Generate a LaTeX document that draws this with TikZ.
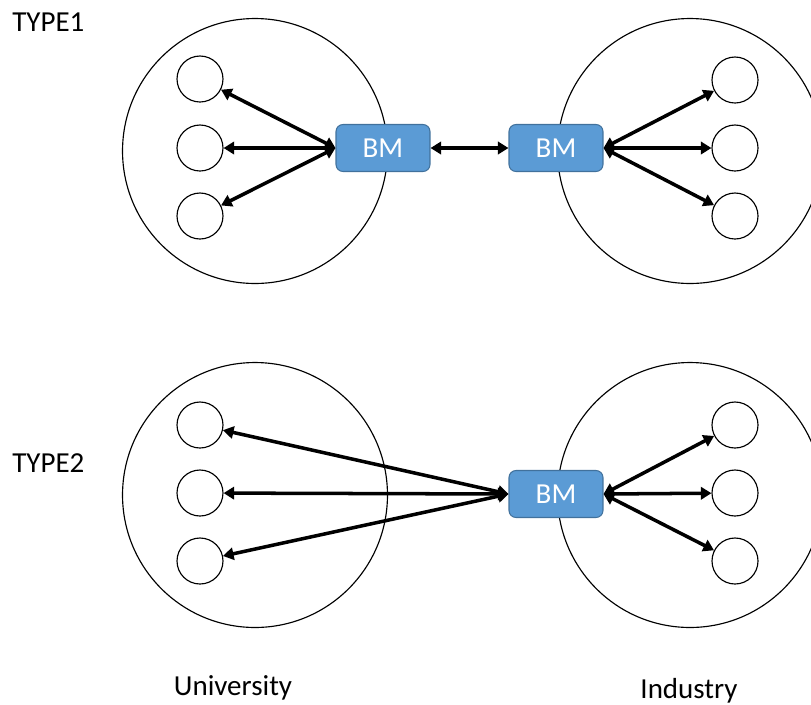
\documentclass[tikz,border=0pt]{standalone}
\usepackage{fontspec}
\setmainfont{Carlito}
\usepackage{tikz}
\usetikzlibrary{arrows.meta, positioning}
\definecolor{bmfill}{RGB}{91,155,213}
\definecolor{bmdraw}{RGB}{65,113,156}
\tikzset{
    party/.style={circle, draw=black, line width=.65pt, minimum size=5.3cm, inner sep=0pt},
    member/.style={circle, draw=black, line width=.65pt, minimum size=.92cm, inner sep=0pt},
    bm/.style={rectangle, rounded corners=4pt, draw=bmdraw, fill=bmfill, line width=.6pt, minimum width=1.88cm, minimum height=.94cm, text=white, font=\fontsize{16.5}{19}\selectfont},
    link/.style={{Triangle[length=6pt,width=7pt]}-{Triangle[length=6pt,width=7pt]}, line width=2pt},
    tag/.style={font=\fontsize{16.5}{19}\selectfont, inner sep=0pt},
}
\begin{document}
\begin{tikzpicture}[x=0.02cm, y=-0.02cm]
    \useasboundingbox (0,0) rectangle (811,704);
    % type 1
    \node[party] (uni1) at (255,151) {};
    \node[party] (ind1) at (690,151) {};
    \node[member] (u1a) at (200,79) {};
    \node[member] (u1b) at (200,148) {};
    \node[member] (u1c) at (200,216) {};
    \node[member] (i1a) at (735,80) {};
    \node[member] (i1b) at (735,148) {};
    \node[member] (i1c) at (735,216) {};
    \node[bm] (bmu1) at (383,148) {BM};
    \node[bm] (bmi1) at (556,148) {BM};
    \draw[link] (bmu1.west) -- (u1a);
    \draw[link] (bmu1.west) -- (u1b);
    \draw[link] (bmu1.west) -- (u1c);
    \draw[link] (bmi1.east) -- (i1a);
    \draw[link] (bmi1.east) -- (i1b);
    \draw[link] (bmi1.east) -- (i1c);
    \draw[link] (bmu1) -- (bmi1);
    % type 2
    \node[party] (uni2) at (255,495) {};
    \node[party] (ind2) at (690,495) {};
    \node[member] (u2a) at (200,425) {};
    \node[member] (u2b) at (200,493) {};
    \node[member] (u2c) at (200,561) {};
    \node[member] (i2a) at (735,425) {};
    \node[member] (i2b) at (735,493) {};
    \node[member] (i2c) at (735,561) {};
    \node[bm] (bm2) at (556,494) {BM};
    \draw[link] (bm2.west) -- (u2a);
    \draw[link] (bm2.west) -- (u2b);
    \draw[link] (bm2.west) -- (u2c);
    \draw[link] (bm2.east) -- (i2a);
    \draw[link] (bm2.east) -- (i2b);
    \draw[link] (bm2.east) -- (i2c);
    % labels
    \node[tag, anchor=west] (t1) at (12,22) {TYPE1};
    \node[tag, anchor=west] (t2) at (12,463) {TYPE2};
    \node[tag] (uni) at (233,688) {University};
    \node[tag] (ind) at (689,691) {Industry};
\end{tikzpicture}
\end{document}
